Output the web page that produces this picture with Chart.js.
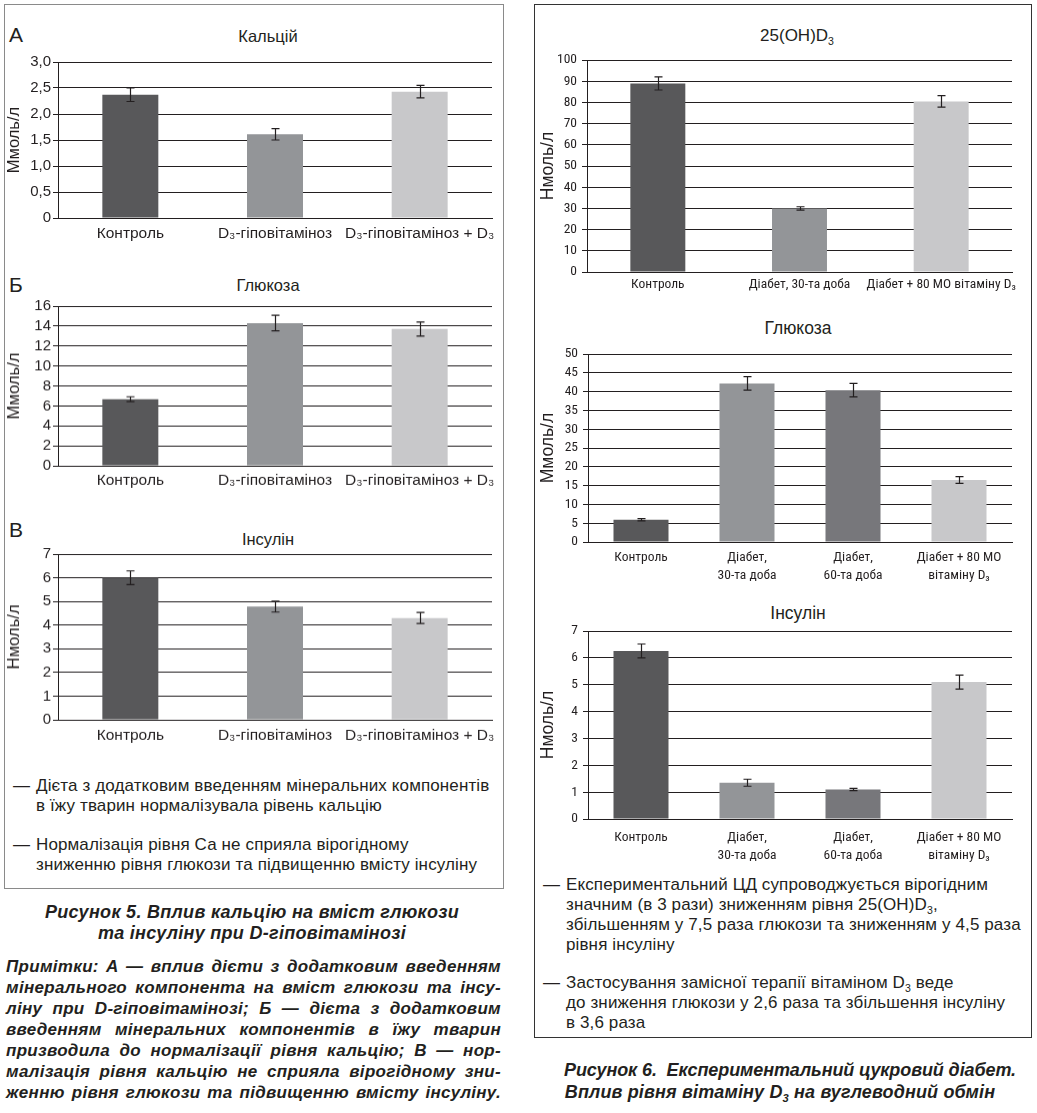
<!DOCTYPE html>
<html><head><meta charset="utf-8">
<script src="https://cdn.jsdelivr.net/npm/chart.js@4.4.0/dist/chart.umd.min.js"></script>
<style>
html,body{margin:0;padding:0;background:#fff;}
body{width:1037px;height:1113px;position:relative;overflow:hidden;font-family:'Liberation Sans',Arial,sans-serif;color:#231f20;}
canvas{position:absolute;}
.box{position:absolute;box-sizing:border-box;}
sub{font-size:0.62em;vertical-align:-0.35em;line-height:0;}
.t{position:absolute;white-space:nowrap;line-height:20px;font-size:17px;letter-spacing:0.12px;}
.ttl{position:absolute;white-space:nowrap;line-height:20px;font-size:16.5px;text-align:center;width:300px;}
.let{position:absolute;white-space:nowrap;line-height:24px;font-size:21px;}
.cap{position:absolute;white-space:nowrap;line-height:22px;font-weight:bold;font-style:italic;font-size:18px;text-align:center;width:500px;}
.j{position:absolute;left:6px;width:495px;text-align:justify;text-align-last:justify;font-weight:bold;font-style:italic;font-size:17px;line-height:21px;letter-spacing:0.3px;white-space:nowrap;}
</style></head><body>
<div class="box" style="left:4px;top:4px;width:500px;height:885px;border:1.5px solid #8a8a8a;"></div>
<div class="box" style="left:534px;top:4px;width:498px;height:1034px;border:1.5px solid #333;"></div>

<div class="let" style="left:9px;top:23px;">А</div>
<div class="let" style="left:9px;top:273px;">Б</div>
<div class="let" style="left:9px;top:518px;">В</div>
<div class="ttl" style="left:118px;top:26px;">Кальцій</div>
<div class="ttl" style="left:118px;top:275px;">Глюкоза</div>
<div class="ttl" style="left:118px;top:529px;">Інсулін</div>
<div class="ttl" style="left:647px;top:26px;font-size:17px;">25(OH)D<sub>3</sub></div>
<div class="ttl" style="left:648px;top:318px;font-size:17.5px;">Глюкоза</div>
<div class="ttl" style="left:648px;top:603px;font-size:17.5px;">Інсулін</div>

<canvas id="cA"></canvas><canvas id="cB"></canvas><canvas id="cC"></canvas>
<canvas id="cD"></canvas><canvas id="cE"></canvas><canvas id="cF"></canvas>

<div class="t" style="left:13px;top:776px;">—</div>
<div class="t" style="left:36px;top:776px;">Дієта з додатковим введенням мінеральних компонентів</div>
<div class="t" style="left:36px;top:796px;">в їжу тварин нормалізувала рівень кальцію</div>
<div class="t" style="left:13px;top:835px;">—</div>
<div class="t" style="left:36px;top:835px;">Нормалізація рівня Са не сприяла вірогідному</div>
<div class="t" style="left:36px;top:855px;">зниженню рівня глюкози та підвищенню вмісту інсуліну</div>

<div class="t" style="left:543px;top:875px;">—</div>
<div class="t" style="left:566px;top:875px;">Експериментальний ЦД супроводжується вірогідним</div>
<div class="t" style="left:566px;top:895px;">значним (в 3 рази) зниженням рівня 25(OH)D<sub>3</sub>,</div>
<div class="t" style="left:566px;top:915px;">збільшенням у 7,5 раза глюкози та зниженням у 4,5 раза</div>
<div class="t" style="left:566px;top:935px;">рівня інсуліну</div>
<div class="t" style="left:543px;top:973px;">—</div>
<div class="t" style="left:566px;top:973px;">Застосування замісної терапії вітаміном D<sub>3</sub> веде</div>
<div class="t" style="left:566px;top:993px;">до зниження глюкози у 2,6 раза та збільшення інсуліну</div>
<div class="t" style="left:566px;top:1013px;">в 3,6 раза</div>

<div class="cap" style="left:2px;top:901px;letter-spacing:0.3px;">Рисунок 5. Вплив кальцію на вміст глюкози</div>
<div class="cap" style="left:2px;top:922px;letter-spacing:0.3px;">та інсуліну при D-гіповітамінозі</div>
<div class="j" style="top:956px;">Примітки: А — вплив дієти з додатковим введенням</div>
<div class="j" style="top:977px;">мінерального компонента на вміст глюкози та інсу-</div>
<div class="j" style="top:998px;">ліну при D-гіповітамінозі; Б — дієта з додатковим</div>
<div class="j" style="top:1019px;">введенням мінеральних компонентів в їжу тварин</div>
<div class="j" style="top:1040px;">призводила до нормалізації рівня кальцію; В — нор-</div>
<div class="j" style="top:1061px;">малізація рівня кальцію не сприяла вірогідному зни-</div>
<div class="j" style="top:1082px;">женню рівня глюкози та підвищенню вмісту інсуліну.</div>

<div class="cap" style="left:540px;top:1059px;letter-spacing:-0.1px;">Рисунок 6.&nbsp; Експериментальний цукровий діабет.</div>
<div class="cap" style="left:530px;top:1081px;letter-spacing:0.15px;">Вплив рівня вітаміну D<sub>3</sub> на вуглеводний обмін</div>

<script>
// ---- data ----
const fig5Cats = ['Контроль', 'D₃-гіповітаміноз', 'D₃-гіповітаміноз + D₃'];
const calciumVals = [2.37, 1.61, 2.43];
const calciumErr = [0.13, 0.11, 0.12];
const calciumTicks = ['0', '0,5', '1,0', '1,5', '2,0', '2,5', '3,0'];
const glucose5Vals = [6.67, 14.3, 13.7];
const glucose5Err = [0.25, 0.78, 0.7];
const glucose5Ticks = ['0', '2', '4', '6', '8', '10', '12', '14', '16'];
const insulin5Vals = [6.0, 4.78, 4.3];
const insulin5Err = [0.29, 0.23, 0.23];
const insulin5Ticks = ['0', '1', '2', '3', '4', '5', '6', '7'];

const ohCats = ['Контроль', 'Діабет, 30-та доба', 'Діабет + 80 МО вітаміну D₃'];
const ohVals = [89, 30, 80.5];
const ohErr = [3.1, 0.8, 2.7];
const ohTicks = ['0', '10', '20', '30', '40', '50', '60', '70', '80', '90', '100'];
const diabCats = ['Контроль', ['Діабет,', '30-та доба'], ['Діабет,', '60-та доба'], ['Діабет + 80 МО', 'вітаміну D₃']];
const glucose6Vals = [5.9, 42.2, 40.4, 16.5];
const glucose6Err = [0.3, 1.8, 1.8, 0.9];
const glucose6Ticks = ['0', '5', '10', '15', '20', '25', '30', '35', '40', '45', '50'];
const insulin6Vals = [6.26, 1.35, 1.1, 5.1];
const insulin6Err = [0.26, 0.13, 0.04, 0.26];
const insulin6Ticks = ['0', '1', '2', '3', '4', '5', '6', '7'];

// ---- styles ----
const DARK = '#58585a', MID = '#939598', MID2 = '#77777b', LIGHT = '#c8c8ca';
const col3 = [DARK, MID, LIGHT];
const col4 = [DARK, MID, MID2, LIGHT];
const INK = '#231f20';
const SANS = "'Liberation Sans', Arial, sans-serif";
const NARROW = "'Roboto Condensed', 'DejaVu Sans Condensed', sans-serif";

const errPlugin = {
  id: 'errbars',
  afterDatasetsDraw(chart) {
    const ctx = chart.ctx, ys = chart.scales.y, meta = chart.getDatasetMeta(0);
    const ds = chart.data.datasets[0];
    ctx.save();
    ctx.strokeStyle = INK; ctx.lineWidth = 1.2;
    meta.data.forEach((bar, i) => {
      const v = ds.data[i], e = ds.errors[i];
      const x = Math.round(bar.x) + 0.5;
      const y1 = ys.getPixelForValue(v + e), y2 = ys.getPixelForValue(v - e);
      const w = 4;
      ctx.beginPath();
      ctx.moveTo(x, y1); ctx.lineTo(x, y2);
      ctx.moveTo(x - w, y1); ctx.lineTo(x + w, y1);
      ctx.moveTo(x - w, y2); ctx.lineTo(x + w, y2);
      ctx.stroke();
    });
    ctx.restore();
  }
};

function make(id, c) {
  const padTop = 12, padRight = 24, xH = 52;
  const el = document.getElementById(id);
  const W = c.right - c.left + padRight;
  const H = c.zero - c.top + padTop + xH;
  el.width = W; el.height = H;
  el.style.left = c.left + 'px';
  el.style.top = (c.top - padTop) + 'px';
  el.style.width = W + 'px'; el.style.height = H + 'px';
  new Chart(el, {
    type: 'bar',
    data: {
      labels: c.labels,
      datasets: [{ data: c.values, errors: c.errors, backgroundColor: c.colors, borderWidth: 0,
        barPercentage: c.barPct, categoryPercentage: 1 }]
    },
    options: {
      responsive: false, animation: false, devicePixelRatio: 1,
      layout: { padding: { top: padTop, right: padRight, left: 0, bottom: 0 } },
      plugins: { legend: { display: false }, tooltip: { enabled: false } },
      scales: {
        x: {
          grid: { display: false, drawTicks: false },
          border: { display: true, color: INK, width: 1 },
          ticks: { color: INK, font: { family: c.xFont, size: c.xSize, lineHeight: 1.3 }, padding: c.xPad, maxRotation: 0, autoSkip: false },
          afterFit: s => { s.height = xH; }
        },
        y: {
          min: 0, max: c.max,
          ticks: { stepSize: c.step, color: INK, padding: c.yPad, autoSkip: false,
            font: { family: c.yFont, size: c.ySize },
            callback: (v, i) => c.ticks[i] },
          grid: { color: INK, lineWidth: 1, drawTicks: true, tickLength: 5, tickColor: INK },
          border: { display: true, color: INK, width: 1 },
          title: { display: true, text: c.yTitle, color: INK, font: { family: SANS, size: c.tSize, lineHeight: 1.2 }, padding: { top: c.tPad, bottom: 0 } },
          afterFit: s => { s.width = c.yW; }
        }
      }
    },
    plugins: [errPlugin]
  });
}

const L = { left: 0, yW: 58, right: 492, barPct: 0.387, xFont: SANS, xSize: 15.5, yFont: SANS, ySize: 15, yPad: 2, tSize: 16.5, tPad: 5 };
make('cA', Object.assign({}, L, { top: 62, zero: 218, xPad: 6, labels: fig5Cats, values: calciumVals, errors: calciumErr, colors: col3, max: 3, step: 0.5, ticks: calciumTicks, yTitle: 'Ммоль/л' }));
make('cB', Object.assign({}, L, { top: 306, zero: 465.7, xPad: 5, labels: fig5Cats, values: glucose5Vals, errors: glucose5Err, colors: col3, max: 16, step: 2, ticks: glucose5Ticks, yTitle: 'Ммоль/л' }));
make('cC', Object.assign({}, L, { top: 554.3, zero: 720, xPad: 6, labels: fig5Cats, values: insulin5Vals, errors: insulin5Err, colors: col3, max: 7, step: 1, ticks: insulin5Ticks, yTitle: 'Нмоль/л' }));

const R = { left: 536, right: 1012, xFont: NARROW, xSize: 13.5, yFont: NARROW, ySize: 13.5, yPad: 5, tSize: 17.5, tPad: 1.5 };
make('cD', Object.assign({}, R, { yW: 51, top: 59.3, zero: 272.3, xPad: 4, barPct: 0.388, labels: ohCats, values: ohVals, errors: ohErr, colors: col3, max: 100, step: 10, ticks: ohTicks, yTitle: 'Нмоль/л' }));
make('cE', Object.assign({}, R, { yW: 52, top: 352.7, zero: 542.3, xPad: 7, barPct: 0.519, labels: diabCats, values: glucose6Vals, errors: glucose6Err, colors: col4, max: 50, step: 5, ticks: glucose6Ticks, yTitle: 'Ммоль/л' }));
make('cF', Object.assign({}, R, { yW: 52, top: 630.3, zero: 819.3, xPad: 10, barPct: 0.519, labels: diabCats, values: insulin6Vals, errors: insulin6Err, colors: col4, max: 7, step: 1, ticks: insulin6Ticks, yTitle: 'Нмоль/л' }));
</script>
</body></html>
